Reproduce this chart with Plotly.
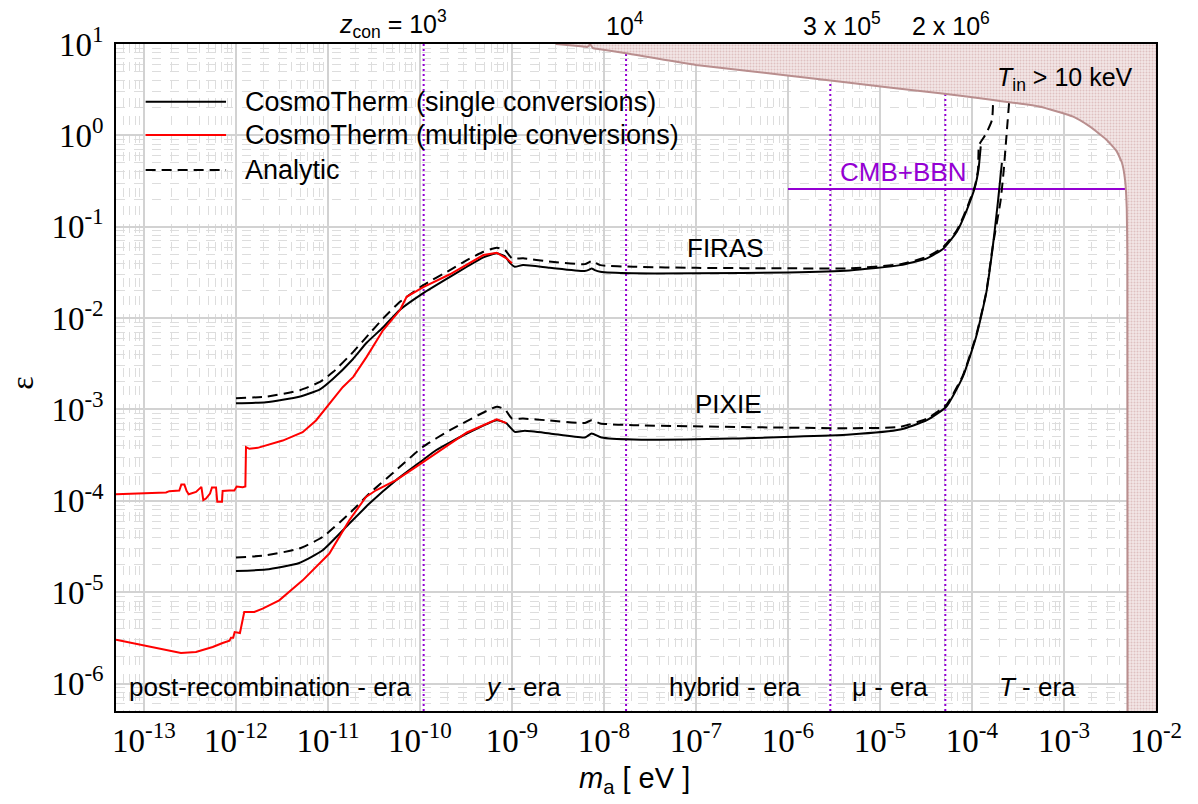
import plotly.graph_objects as go

# ---- data (log10 of axion mass in eV, log10 of epsilon) ----
firas_single_logm = [-12.0, -11.674, -11.312, -11.087, -10.95, -10.73, -10.58, -10.40, -10.22, -9.964,
                     -9.674, -9.49, -9.31, -9.17, -9.08, -9.02, -8.97, -8.88, -8.59, -8.21, -8.16, -8.134,
                     -8.10, -8.04, -7.68, -7.0, -6.0, -5.33, -4.78, -4.49, -4.31, -4.165, -4.057, -3.967,
                     -3.93, -3.905]
firas_single_loge = [-2.931, -2.92, -2.86, -2.78, -2.67, -2.45, -2.27, -2.10, -1.91, -1.726,
                     -1.548, -1.438, -1.335, -1.291, -1.32, -1.398, -1.438, -1.419, -1.449, -1.485, -1.47, -1.456,
                     -1.475, -1.493, -1.51, -1.51, -1.50, -1.478, -1.42, -1.346, -1.237, -1.055, -0.817, -0.562,
                     -0.379, -0.12]

firas_analytic_logm = [-12.0, -11.674, -11.304, -11.087, -10.942, -10.725, -10.58, -10.40, -10.217, -9.964,
                       -9.674, -9.49, -9.31, -9.166, -9.076, -9.0, -8.878, -8.6, -8.207, -8.134, -8.04, -7.68,
                       -7.0, -6.0, -5.326, -4.78, -4.49, -4.31, -4.165, -4.057, -3.967, -3.935, -3.925, -3.91,
                       -3.845, -3.783, -3.77]
firas_analytic_loge = [-2.876, -2.86, -2.789, -2.698, -2.588, -2.369, -2.205, -2.003, -1.822, -1.639,
                       -1.474, -1.365, -1.274, -1.23, -1.255, -1.346, -1.346, -1.38, -1.409, -1.376, -1.42, -1.438,
                       -1.45, -1.455, -1.456, -1.41, -1.33, -1.22, -1.04, -0.80, -0.55, -0.38, -0.11, -0.08,
                       0.022, 0.168, 0.388]

firas_multi_logm = [-13.304, -12.833, -12.76, -12.724, -12.616, -12.594, -12.561, -12.536, -12.514, -12.434,
                    -12.376, -12.355, -12.326, -12.282, -12.261, -12.217, -12.203, -12.152, -12.145, -12.072,
                    -12.018, -11.992, -11.927, -11.898, -11.891, -11.855, -11.764, -11.492, -11.275, -11.13,
                    -10.985, -10.84, -10.725, -10.58, -10.40, -10.217, -10.145, -9.964, -9.674, -9.49, -9.31,
                    -9.166, -9.06, -9.0]
firas_multi_loge = [-3.928, -3.915, -3.908, -3.894, -3.887, -3.822, -3.822, -3.894, -3.928, -3.902,
                    -3.847, -3.993, -3.975, -3.92, -3.854, -3.854, -4.011, -4.011, -3.891, -3.887,
                    -3.887, -3.843, -3.85, -3.843, -3.412, -3.43, -3.42, -3.34, -3.249, -3.12,
                    -2.938, -2.756, -2.643, -2.424, -2.131, -1.912, -1.767, -1.66, -1.52, -1.41, -1.31,
                    -1.285, -1.346, -1.40]

pixie_single_logm = [-12.0, -11.674, -11.312, -11.058, -10.768, -10.55, -10.26, -9.97, -9.826, -9.49,
                     -9.166, -9.06, -8.97, -8.86, -8.587, -8.207, -8.134, -8.025, -7.68, -6.6, -5.326,
                     -4.78, -4.49, -4.28, -4.10, -3.955, -3.846, -3.774, -3.72, -3.683, -3.675]
pixie_single_loge = [-4.768, -4.752, -4.68, -4.541, -4.249, -4.03, -3.774, -3.555, -3.446, -3.263,
                     -3.117, -3.153, -3.245, -3.234, -3.263, -3.307, -3.263, -3.307, -3.329, -3.318, -3.274,
                     -3.22, -3.117, -2.97, -2.643, -2.205, -1.73, -1.219, -0.744, -0.379, -0.30]

pixie_analytic_logm = [-12.0, -11.674, -11.312, -11.058, -10.768, -10.55, -10.26, -9.97, -9.674, -9.166,
                       -9.076, -9.0, -8.88, -8.6, -8.207, -8.134, -8.04, -7.68, -5.326, -4.78, -4.49, -4.28,
                       -4.10, -3.955, -3.846, -3.774, -3.69, -3.655, -3.625, -3.595]
pixie_analytic_loge = [-4.621, -4.596, -4.522, -4.395, -4.139, -3.92, -3.665, -3.41, -3.227, -2.971,
                       -3.0, -3.099, -3.099, -3.12, -3.147, -3.117, -3.153, -3.172, -3.205, -3.19, -3.10, -2.95,
                       -2.63, -2.19, -1.72, -1.21, -0.72, -0.38, 0.0, 0.38]

pixie_multi_logm = [-13.304, -13.087, -12.598, -12.435, -12.253, -12.145, -12.09, -12.07, -12.054, -12.03,
                    -12.014, -11.957, -11.91, -11.801, -11.71, -11.53, -11.275, -10.985, -10.768, -10.587,
                    -10.478, -10.26, -10.043, -9.826, -9.49, -9.166, -9.06]
pixie_multi_loge = [-5.519, -5.563, -5.666, -5.655, -5.60, -5.556, -5.535, -5.53, -5.497, -5.497,
                    -5.436, -5.447, -5.217, -5.217, -5.18, -5.089, -4.87, -4.577, -4.212, -3.957,
                    -3.884, -3.774, -3.628, -3.482, -3.252, -3.107, -3.15]

# T_in > 10 keV exclusion boundary
tin_logm = [-8.526, -8.25, -8.18, -8.15, -8.12, -8.043, -7.761, -7.0, -5.961, -4.924, -4.348, -3.77,
            -3.26, -2.9, -2.717, -2.536, -2.43, -2.37, -2.335, -2.318, -2.312, -2.31]
tin_loge = [1.0, 0.975, 0.968, 0.995, 0.955, 0.943, 0.899, 0.771, 0.651, 0.527, 0.461, 0.388,
            0.314, 0.205, 0.095, -0.05, -0.17, -0.30, -0.50, -0.80, -1.3, -6.3]

# CMB+BBN limit
cmb_bbn_logm = [-6.0, -2.33]
cmb_bbn_loge = [-0.587, -0.587]

# conversion-redshift markers
zcon_logm = [-9.96, -7.76, -5.54, -4.29]

# axis ranges (log10)
X_RANGE = [-13.304, -2.0]
Y_RANGE = [-6.3, 1.0]
x_tick_exp = list(range(-13, -1))
y_tick_exp = list(range(-6, 2))

# era labels
era_text = ["post-recombination - era", "<i>y</i> - era", "hybrid - era", "\u03bc - era", "<i>T</i> - era"]
era_logm = [-11.63, -8.88, -6.576, -4.891, -3.293]


def lin(vals):
    return [10.0 ** v for v in vals]


BLACK = "black"
RED = "#ff0000"
PURPLE = "#9400d3"
BROWN = "#b98e8e"
SANS = "Liberation Sans"
SERIF = "Liberation Serif, Times New Roman, DejaVu Serif, serif"
DASH = "10px,6px"

fig = go.Figure()

# vertical era markers
for zm in zcon_logm:
    fig.add_trace(go.Scatter(x=lin([zm, zm]), y=lin(Y_RANGE), mode="lines",
                             line=dict(color=PURPLE, width=2, dash="2px,3px"),
                             showlegend=False, hoverinfo="skip"))

# CMB+BBN horizontal limit
fig.add_trace(go.Scatter(x=lin(cmb_bbn_logm), y=lin(cmb_bbn_loge), mode="lines",
                         line=dict(color=PURPLE, width=2), showlegend=False, hoverinfo="skip"))

# CosmoTherm single conversions
for xm, ye in [(firas_single_logm, firas_single_loge), (pixie_single_logm, pixie_single_loge)]:
    fig.add_trace(go.Scatter(x=lin(xm), y=lin(ye), mode="lines",
                             line=dict(color=BLACK, width=2, shape="spline", smoothing=0.5),
                             showlegend=False))

# Analytic
for xm, ye in [(firas_analytic_logm, firas_analytic_loge), (pixie_analytic_logm, pixie_analytic_loge)]:
    fig.add_trace(go.Scatter(x=lin(xm), y=lin(ye), mode="lines",
                             line=dict(color=BLACK, width=2, dash=DASH, shape="spline", smoothing=0.5),
                             showlegend=False))

# CosmoTherm multiple conversions
for xm, ye in [(firas_multi_logm, firas_multi_loge), (pixie_multi_logm, pixie_multi_loge)]:
    fig.add_trace(go.Scatter(x=lin(xm), y=lin(ye), mode="lines",
                             line=dict(color=RED, width=2), showlegend=False))

# excluded region T_in > 10 keV
fill_m = tin_logm + [X_RANGE[1], X_RANGE[1], tin_logm[0]]
fill_e = tin_loge + [Y_RANGE[0], Y_RANGE[1], tin_loge[0]]
fig.add_trace(go.Scatter(x=lin(fill_m), y=lin(fill_e), mode="none", fill="toself",
                         fillcolor="#ecdcdc",
                         fillpattern=dict(shape=".", fgcolor="#c99c9c", bgcolor="#f3e6e6",
                                          size=3, solidity=0.35),
                         showlegend=False, hoverinfo="skip"))
fig.add_trace(go.Scatter(x=lin(tin_logm), y=lin(tin_loge), mode="lines",
                         line=dict(color=BROWN, width=2, shape="spline", smoothing=0.4),
                         showlegend=False, hoverinfo="skip"))

axis_common = dict(
    type="log", showgrid=True, gridcolor="#d2d2d2", gridwidth=1.5,
    minor=dict(dtick="D1", showgrid=True, gridcolor="#dddddd", griddash="dash", gridwidth=1),
    showline=True, linecolor="black", linewidth=1.5, mirror=True, ticks="",
    tickfont=dict(family=SERIF, size=33, color="black"), zeroline=False,
)
fig.update_xaxes(range=X_RANGE, tickmode="array", tickvals=lin(x_tick_exp),
                 ticktext=[f"10<sup>{e}</sup>" for e in x_tick_exp], **axis_common)
fig.update_yaxes(range=Y_RANGE, tickmode="array", tickvals=lin(y_tick_exp),
                 ticktext=[f"10<sup>{e}</sup>" for e in y_tick_exp], ticklabelstandoff=4, **axis_common)

annotations = []
# top labels (conversion redshift)
top_labels = ["<i>z</i><sub>con</sub> = 10<sup>3</sup>", "10<sup>4</sup>",
              "3 x 10<sup>5</sup>", "2 x 10<sup>6</sup>"]
top_logm = [-10.288, -7.772, -5.413, -4.223]
for t, xm in zip(top_labels, top_logm):
    annotations.append(dict(x=xm, y=1.03, xref="x", yref="paper", text=t, showarrow=False,
                            xanchor="center", yanchor="middle",
                            font=dict(family=SANS, size=25, color="black")))
# era labels
for t, xm in zip(era_text, era_logm):
    annotations.append(dict(x=xm, y=0.036, xref="x", yref="paper", text=t, showarrow=False,
                            xanchor="center", yanchor="middle",
                            font=dict(family=SANS, size=26, color="black")))
# experiment labels
annotations.append(dict(x=-6.674, y=-1.233, xref="x", yref="y", text="FIRAS", showarrow=False,
                        xanchor="center", yanchor="middle",
                        font=dict(family=SANS, size=26, color="black")))
annotations.append(dict(x=-6.652, y=-2.94, xref="x", yref="y", text="PIXIE", showarrow=False,
                        xanchor="center", yanchor="middle",
                        font=dict(family=SANS, size=26, color="black")))
annotations.append(dict(x=-4.75, y=-0.401, xref="x", yref="y", text="CMB+BBN", showarrow=False,
                        xanchor="center", yanchor="middle",
                        font=dict(family=SANS, size=26, color=PURPLE)))
annotations.append(dict(x=-2.99, y=0.62, xref="x", yref="y",
                        text="<i>T</i><sub>in</sub> > 10 keV", showarrow=False,
                        xanchor="center", yanchor="middle",
                        font=dict(family=SANS, size=25, color="black")))
# axis titles
annotations.append(dict(x=0.499, y=-0.103, xref="paper", yref="paper",
                        text="<i>m</i><sub>a</sub> [ eV ]", showarrow=False,
                        xanchor="center", yanchor="middle",
                        font=dict(family=SANS, size=29, color="black")))
annotations.append(dict(x=-0.0905, y=0.492, xref="paper", yref="paper", text="\u03b5",
                        textangle=-90, showarrow=False, xanchor="center", yanchor="middle",
                        font=dict(family=SERIF, size=32, color="black")))

# legend
legend_labels = ["CosmoTherm (single conversions)", "CosmoTherm (multiple conversions)", "Analytic"]
legend_colors = [BLACK, RED, BLACK]
legend_dash = ["solid", "solid", DASH]
legend_y = [0.9135, 0.8636, 0.8111]
shapes = []
for lab, col, dsh, yy in zip(legend_labels, legend_colors, legend_dash, legend_y):
    shapes.append(dict(type="line", xref="paper", yref="paper", x0=0.0285, x1=0.1058, y0=yy, y1=yy,
                       line=dict(color=col, width=2, dash=dsh)))
    annotations.append(dict(x=0.1221, y=yy, xref="paper", yref="paper", text=lab, showarrow=False,
                            xanchor="left", yanchor="middle",
                            font=dict(family=SANS, size=27, color="black")))

fig.update_layout(width=1198, height=804, margin=dict(l=116, r=42, t=44, b=93),
                  paper_bgcolor="white", plot_bgcolor="white", showlegend=False,
                  annotations=annotations, shapes=shapes)

fig.write_html("out.html")
